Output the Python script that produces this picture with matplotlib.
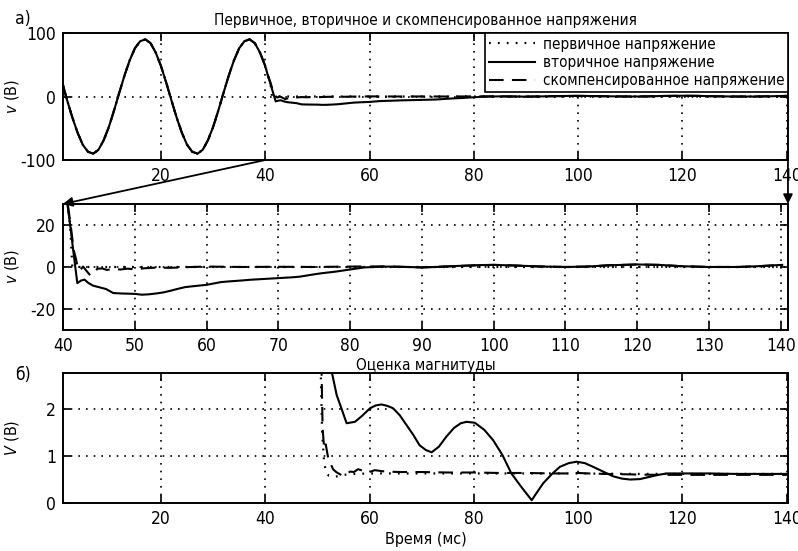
import matplotlib
matplotlib.use("Agg")
import matplotlib.pyplot as plt
from matplotlib.patches import ConnectionPatch

plt.rcParams["font.family"] = ["DejaVu Sans"]
plt.rcParams["font.stretch"] = "condensed"
plt.rcParams["mathtext.fontset"] = "custom"
plt.rcParams["mathtext.it"] = "DejaVu Sans:italic"
plt.rcParams["mathtext.rm"] = "DejaVu Sans"
plt.rcParams["axes.unicode_minus"] = False

# ---- pre-fault waveform (common to all three voltages), ms / V ----
t_pre = [1.2, 2, 3, 4, 5, 6, 7, 8, 9, 10, 11, 12, 13, 14, 15, 16, 17, 18, 19, 20,
         21, 22, 23, 24, 25, 26, 27, 28, 29, 30, 31, 32, 33, 34, 35, 36, 37, 38, 39, 40]
v_pre = [18, -6, -33, -57, -76, -87, -90, -84, -69, -48, -22, 6, 33, 57, 76, 87, 90, 84, 69, 48,
         22, -6, -33, -57, -76, -87, -90, -84, -69, -48, -22, 6, 33, 57, 76, 87, 90, 84, 69, 48]

# ---- post-fault part of each voltage ----
t_prim_post = [40.5, 41, 41.3, 42, 60, 80, 100, 120, 140.2]
v_prim_post = [33, 20, 0, 0, 0, 0, 0, 0, 0]

t_sec_post = [40.5, 41, 41.5, 42, 42.5, 43, 43.5, 44.2, 45, 46, 47, 48, 49, 50, 51, 52, 53, 54,
              55, 56, 57, 58, 60, 62, 63, 65, 66, 68, 70, 72, 73, 75, 76, 78, 80, 82, 85, 88,
              90, 92, 95, 98, 100, 103, 106, 110, 113, 116, 120, 123, 126, 130, 134, 137, 140.2]
v_sec_post = [33, 20, 6, -7.7, -6.5, -6.0, -7.5, -8.9, -9.6, -10.5, -12.4, -12.6, -12.7, -12.8,
              -13.2, -13.0, -12.6, -12.1, -11.3, -10.4, -9.6, -9.2, -8.5, -7.2, -6.9, -6.4, -6.1,
              -5.7, -5.3, -4.9, -4.6, -3.5, -3.0, -2.2, -1.2, -0.2, 0.2, 0.0, -0.2, 0.0, 0.5, 0.9,
              1.0, 0.7, 0.3, 0.0, 0.2, 0.8, 1.2, 1.0, 0.4, 0.0, 0.0, 0.4, 1.0]

t_comp_post = [40.5, 41, 41.5, 41.8, 42.1, 42.4, 42.8, 43.2, 43.8, 44.3, 44.8, 45.5, 46.1, 47,
               48, 49, 50, 51.4, 53, 55, 57, 60, 65, 70, 75, 80, 85, 88, 90, 95, 100, 103, 106,
               110, 113, 116, 120, 123, 126, 130, 134, 137, 140.2]
v_comp_post = [34, 22, 8, 4, -1, -1.5, 0.2, -1.5, -4, -3, -0.8, -0.7, -1.4, -0.9, -1.2, -0.8,
               -1.1, -0.6, -0.3, -0.4, -0.1, 0.2, 0.0, 0.1, 0.0, 0.2, 0.3, 0.0, -0.2, 0.5, 1.0,
               0.7, 0.3, 0.0, 0.2, 0.8, 1.2, 1.0, 0.4, 0.0, 0.0, 0.4, 1.0]

# ---- magnitude estimates, ms / V ----
t_mag_prim = [50.4, 50.9, 51.3, 51.7, 52.2, 53.0, 54.0, 55.0, 57, 60, 65, 70, 80, 90, 100,
              110, 120, 130, 140.2]
v_mag_prim = [4.0, 1.5, 0.85, 0.65, 0.58, 0.56, 0.57, 0.6, 0.62, 0.63, 0.63, 0.63, 0.63, 0.63,
              0.63, 0.62, 0.62, 0.62, 0.62]

t_mag_sec = [52.0, 52.8, 53.7, 54.6, 55.6, 57.2, 58.5, 60.1, 61.2, 62.3, 63.4, 64.5, 65.8, 67.1,
             68.4, 69.6, 70.8, 71.9, 73.3, 74.7, 76.2, 77.5, 78.6, 80.2, 82.0, 83.7, 85.5, 87.2,
             89.2, 91.1, 93.3, 95.0, 96.5, 98.2, 99.7, 101.3, 102.9, 104.8, 106.7, 108.4, 110.0,
             111.9, 113.8, 115.4, 117.0, 120, 125, 130, 135, 140.2]
v_mag_sec = [3.2, 2.77, 2.3, 2.02, 1.70, 1.73, 1.85, 2.02, 2.08, 2.10, 2.07, 2.02, 1.87, 1.66,
             1.45, 1.23, 1.13, 1.08, 1.20, 1.41, 1.60, 1.70, 1.73, 1.71, 1.56, 1.34, 1.02, 0.63,
             0.33, 0.06, 0.42, 0.62, 0.77, 0.85, 0.88, 0.85, 0.77, 0.67, 0.57, 0.52, 0.50, 0.51,
             0.56, 0.60, 0.63, 0.63, 0.63, 0.62, 0.62, 0.62]

t_mag_comp = [50.6, 51.0, 51.3, 51.6, 52.0, 52.5, 53.0, 53.6, 54.2, 54.9, 55.6, 56.3, 57.0, 57.8,
              59.0, 60.0, 61.0, 63.0, 66, 70, 75, 80, 85, 90, 95, 98, 100, 102, 105, 110, 115,
              120, 125, 130, 135, 140.2]
v_mag_comp = [4.0, 1.6, 1.15, 1.25, 1.0, 0.85, 0.72, 0.66, 0.62, 0.58, 0.63, 0.67, 0.66, 0.72,
              0.68, 0.66, 0.70, 0.67, 0.66, 0.66, 0.65, 0.65, 0.64, 0.64, 0.63, 0.63, 0.64, 0.63,
              0.62, 0.61, 0.60, 0.60, 0.60, 0.60, 0.60, 0.60]

labels = ["первичное напряжение", "вторичное напряжение", "скомпенсированное напряжение"]
ticks_full = [20, 40, 60, 80, 100, 120, 140]
ticks_zoom = [40, 50, 60, 70, 80, 90, 100, 110, 120, 130, 140]

t_prim = t_pre + t_prim_post
v_prim = v_pre + v_prim_post
t_sec = t_pre + t_sec_post
v_sec = v_pre + v_sec_post
t_comp = t_pre + t_comp_post
v_comp = v_pre + v_comp_post

DOT = dict(color="black", lw=1.6, linestyle=(0, (0.8, 3.2)))
SOL = dict(color="black", lw=1.5, linestyle="-")
DSH = dict(color="black", lw=1.5, linestyle=(0, (7, 4)))
GRID = dict(color="black", lw=1.2, linestyle=(0, (1, 3.6)))
FS = 11.5
YLAB_X = -0.058

fig = plt.figure(figsize=(7.98, 5.51), dpi=100)
L, W = 0.0789, 0.9085
ax1 = fig.add_axes([L, 0.7096, W, 0.2305])
ax2 = fig.add_axes([L, 0.4011, W, 0.2287])
ax3 = fig.add_axes([L, 0.0871, W, 0.2359])


def style(ax):
    ax.grid(True, **GRID)
    ax.tick_params(direction="in", top=True, right=True, length=6, width=1.2,
                   labelsize=FS + 1, pad=5)
    for s in ax.spines.values():
        s.set_linewidth(1.4)


# panel a) full record
ax1.plot(t_prim, v_prim, label=labels[0], **DOT)
ax1.plot(t_sec, v_sec, label=labels[1], **SOL)
ax1.plot(t_comp, v_comp, label=labels[2], **DSH)
ax1.set_xlim(1.2, 140.25)
ax1.set_ylim(-100, 100)
ax1.set_xticks(ticks_full)
ax1.set_yticks([-100, 0, 100])
style(ax1)
ax1.set_title("Первичное, вторичное и скомпенсированное напряжения", fontsize=11, pad=6)
ax1.set_ylabel(r"$v$ (В)", fontsize=FS)
ax1.yaxis.set_label_coords(YLAB_X, 0.5)
leg = ax1.legend(loc="upper right", fontsize=11, handlelength=3.0, borderaxespad=0,
                 fancybox=False, framealpha=1, edgecolor="black", borderpad=0.25,
                 labelspacing=0.2, handletextpad=0.5)
leg.get_frame().set_linewidth(1.2)

# panel a) zoomed part after the fault
ax2.plot(t_prim, v_prim, **DOT)
ax2.plot(t_sec, v_sec, **SOL)
ax2.plot(t_comp, v_comp, **DSH)
ax2.set_xlim(40, 141)
ax2.set_ylim(-30, 30)
ax2.set_xticks(ticks_zoom)
ax2.set_yticks([-20, 0, 20])
style(ax2)
ax2.set_ylabel(r"$v$ (В)", fontsize=FS)
ax2.yaxis.set_label_coords(YLAB_X, 0.5)

# panel б) magnitude estimates
ax3.plot(t_mag_prim, v_mag_prim, **DOT)
ax3.plot(t_mag_sec, v_mag_sec, **SOL)
ax3.plot(t_mag_comp, v_mag_comp, **DSH)
ax3.set_xlim(1.2, 140.25)
ax3.set_ylim(0, 2.77)
ax3.set_xticks(ticks_full)
ax3.set_yticks([0, 1, 2])
style(ax3)
ax3.set_title("Оценка магнитуды", fontsize=11, pad=2)
ax3.set_ylabel(r"$V$ (В)", fontsize=FS)
ax3.yaxis.set_label_coords(YLAB_X, 0.5)
ax3.set_xlabel("Время (мс)", fontsize=FS, labelpad=3)

fig.text(0.019, 0.982, "а)", fontsize=FS + 1, va="top")
fig.text(0.019, 0.336, "б)", fontsize=FS + 1, va="top")

# arrows linking the full record to its zoomed part
arr = dict(arrowstyle="-|>", mutation_scale=14, color="black", lw=1.3)
fig.add_artist(ConnectionPatch(xyA=(40, -100), coordsA=ax1.transData,
                               xyB=(0, 1), coordsB=ax2.transAxes, **arr))
fig.add_artist(ConnectionPatch(xyA=(1, 0), coordsA=ax1.transAxes,
                               xyB=(1, 1), coordsB=ax2.transAxes, **arr))

fig.savefig("out.png", dpi=100)
